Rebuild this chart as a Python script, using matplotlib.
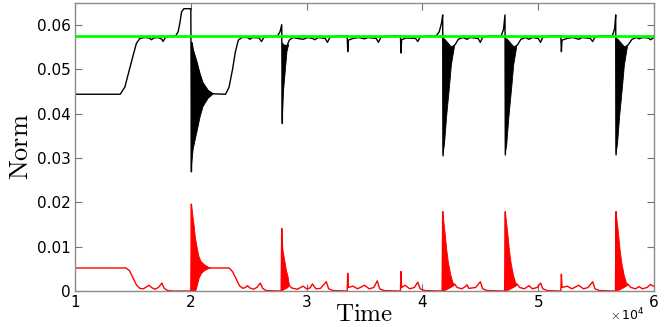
import numpy as np
import matplotlib
matplotlib.use("Agg")
import matplotlib.pyplot as plt

# time values are in units of 1e4
TIME_UNIT = 1e4

# reference level (green)
level_norm = 0.0576

# black curve
black_t = [1.00, 1.39, 1.43, 1.47, 1.50, 1.53, 1.56, 1.60, 1.64, 1.66, 1.68, 1.72, 1.75, 1.76, 1.78,
           1.82, 1.87, 1.89, 1.905, 1.92, 1.94, 1.99, 2.00, 2.005,
           2.01, 2.02, 2.05, 2.08, 2.105, 2.15,
           2.19, 2.30, 2.33, 2.36, 2.385, 2.41, 2.44, 2.49, 2.51, 2.53, 2.59, 2.61, 2.63, 2.68,
           2.75, 2.77, 2.785, 2.79, 2.795, 2.83, 2.85, 2.88, 2.92, 2.97, 3.01, 3.05, 3.07, 3.10,
           3.16, 3.18, 3.20, 3.25, 3.35, 3.355, 3.36, 3.40, 3.45, 3.50, 3.53, 3.60, 3.62, 3.64,
           3.70, 3.81, 3.815, 3.82, 3.86, 3.94, 3.96, 3.98, 4.05, 4.12, 4.145, 4.165, 4.175, 4.178,
           4.19, 4.25, 4.28, 4.31, 4.35, 4.385, 4.41, 4.48, 4.50, 4.52, 4.60, 4.68, 4.70, 4.713,
           4.716, 4.73, 4.79, 4.82, 4.85, 4.89, 4.92, 4.95, 5.00, 5.02, 5.04, 5.12, 5.195, 5.20,
           5.205, 5.25, 5.30, 5.35, 5.38, 5.45, 5.47, 5.49, 5.56, 5.64, 5.66, 5.669, 5.672, 5.685,
           5.745, 5.775, 5.81, 5.85, 5.87, 5.90, 5.95, 5.97, 6.00]
black_v = [0.0444, 0.0444, 0.0460, 0.0500, 0.0530, 0.0559, 0.0570, 0.0572, 0.0571, 0.0567, 0.0571,
           0.0572, 0.0568, 0.0563, 0.0572,
           0.0575, 0.0576, 0.0585, 0.0604, 0.0630, 0.0637, 0.0637, 0.0637, 0.0269,
           0.0560, 0.0544, 0.0518, 0.0488, 0.0469, 0.0452,
           0.0445, 0.0444, 0.0460, 0.0500, 0.0540, 0.0566, 0.0572, 0.0572, 0.0568, 0.0572, 0.0571,
           0.0563, 0.0572, 0.0575,
           0.0576, 0.0585, 0.0601, 0.0378, 0.0555, 0.0553, 0.0566, 0.0572, 0.0570, 0.0568, 0.0572,
           0.0570, 0.0567, 0.0572,
           0.0570, 0.0561, 0.0572, 0.0575, 0.0576, 0.0540, 0.0566, 0.0570, 0.0572, 0.0569, 0.0572,
           0.0570, 0.0561, 0.0572,
           0.0575, 0.0576, 0.0537, 0.0567, 0.0571, 0.0570, 0.0563, 0.0573, 0.0576, 0.0576, 0.0585,
           0.0605, 0.0623, 0.0305,
           0.0568, 0.0550, 0.0555, 0.0568, 0.0572, 0.0568, 0.0572, 0.0570, 0.0561, 0.0573, 0.0576,
           0.0576, 0.0590, 0.0623,
           0.0307, 0.0568, 0.0550, 0.0555, 0.0568, 0.0572, 0.0568, 0.0572, 0.0570, 0.0561, 0.0573,
           0.0576, 0.0576, 0.0540,
           0.0566, 0.0570, 0.0572, 0.0568, 0.0572, 0.0570, 0.0563, 0.0573, 0.0576, 0.0576, 0.0592,
           0.0623, 0.0307, 0.0568,
           0.0550, 0.0555, 0.0568, 0.0572, 0.0569, 0.0572, 0.0571, 0.0567, 0.0572]

# envelopes of the fast oscillations in the black curve (nan separates bursts)
nan = np.nan
black_burst_t = [2.005, 2.02, 2.05, 2.08, 2.105, 2.15, 2.19, nan,
                 2.79, 2.80, 2.815, 2.83, 2.845, nan,
                 4.178, 4.19, 4.21, 4.235, 4.25, 4.275, nan,
                 4.716, 4.728, 4.748, 4.773, 4.788, 4.813, nan,
                 5.672, 5.684, 5.704, 5.729, 5.744, 5.769]
black_burst_hi = [0.0560, 0.0544, 0.0518, 0.0488, 0.0469, 0.0452, 0.0445, nan,
                  0.0560, 0.0556, 0.0553, 0.0553, 0.0556, nan,
                  0.0570, 0.0568, 0.0560, 0.0552, 0.0550, 0.0553, nan,
                  0.0570, 0.0568, 0.0560, 0.0552, 0.0550, 0.0553, nan,
                  0.0570, 0.0568, 0.0560, 0.0552, 0.0550, 0.0553]
black_burst_lo = [0.0280, 0.0320, 0.0356, 0.0393, 0.0416, 0.0435, 0.0444, nan,
                  0.0390, 0.0450, 0.0495, 0.0540, 0.0556, nan,
                  0.0310, 0.0330, 0.0397, 0.0465, 0.0510, 0.0549, nan,
                  0.0312, 0.0330, 0.0397, 0.0465, 0.0510, 0.0549, nan,
                  0.0312, 0.0330, 0.0397, 0.0465, 0.0510, 0.0549]

# red curve
red_t = [1.00, 1.44, 1.47, 1.50, 1.53, 1.56, 1.59, 1.62, 1.64, 1.66, 1.69, 1.72, 1.75, 1.77, 1.80,
         1.85, 2.00, 2.005, 2.01,
         2.026, 2.04, 2.055, 2.07, 2.09, 2.12, 2.15,
         2.17, 2.33, 2.36, 2.39, 2.42, 2.45, 2.47, 2.49, 2.51, 2.54, 2.57, 2.60, 2.62, 2.65, 2.78,
         2.785, 2.79,
         2.85, 2.87, 2.92, 2.97, 3.00, 3.03, 3.05, 3.08, 3.12, 3.17, 3.19, 3.23, 3.35, 3.355, 3.36,
         3.40, 3.44, 3.50, 3.54, 3.58, 3.61, 3.63, 3.67, 3.81, 3.815, 3.82, 3.85, 3.89, 3.93, 3.96,
         3.98, 4.02, 4.17, 4.175, 4.18,
         4.28, 4.30, 4.34, 4.37, 4.385, 4.40, 4.46, 4.50, 4.52, 4.56, 4.71, 4.716, 4.72,
         4.82, 4.84, 4.88, 4.92, 4.95, 4.99, 5.02, 5.04, 5.08, 5.195, 5.20, 5.205, 5.25, 5.29,
         5.35, 5.39, 5.43, 5.47, 5.49, 5.53, 5.667, 5.672, 5.677,
         5.775, 5.80, 5.84, 5.87, 5.90, 5.94, 5.97, 6.00]
red_v = [0.0052, 0.0052, 0.0046, 0.0030, 0.0014, 0.0006, 0.0005, 0.0010, 0.0013, 0.0008, 0.0004,
         0.0008, 0.0018, 0.0006, 0.0001,
         0.0000, 0.0000, 0.0196, 0.0002,
         0.0000, 0.0000, 0.0014, 0.0030, 0.0040, 0.0047, 0.0051,
         0.0052, 0.0052, 0.0044, 0.0028, 0.0012, 0.0006, 0.0008, 0.0012, 0.0007, 0.0004, 0.0008,
         0.0018, 0.0006, 0.0001, 0.0000,
         0.0141, 0.0002,
         0.0013, 0.0007, 0.0004, 0.0011, 0.0005, 0.0007, 0.0016, 0.0005, 0.0006, 0.0021, 0.0005,
         0.0001, 0.0000, 0.0040, 0.0008,
         0.0011, 0.0005, 0.0013, 0.0005, 0.0008, 0.0023, 0.0005, 0.0001, 0.0000, 0.0044, 0.0008,
         0.0013, 0.0005, 0.0008, 0.0020,
         0.0005, 0.0001, 0.0000, 0.0179, 0.0003,
         0.0015, 0.0008, 0.0005, 0.0010, 0.0014, 0.0006, 0.0008, 0.0021, 0.0005, 0.0001, 0.0000,
         0.0179, 0.0003,
         0.0015, 0.0008, 0.0005, 0.0012, 0.0005, 0.0008, 0.0018, 0.0005, 0.0001, 0.0000, 0.0038,
         0.0008, 0.0011, 0.0005,
         0.0013, 0.0005, 0.0008, 0.0021, 0.0005, 0.0001, 0.0000, 0.0179, 0.0003,
         0.0015, 0.0008, 0.0005, 0.0010, 0.0005, 0.0008, 0.0015, 0.0010]

red_burst_t = [2.005, 2.026, 2.04, 2.055, 2.07, 2.09, 2.12, 2.15, 2.17, nan,
               2.785, 2.795, 2.81, 2.825, 2.84, 2.85, nan,
               4.175, 4.195, 4.21, 4.225, 4.245, 4.265, 4.28, nan,
               4.716, 4.736, 4.751, 4.766, 4.786, 4.806, 4.82, nan,
               5.672, 5.692, 5.707, 5.722, 5.742, 5.762, 5.775]
red_burst_hi = [0.0196, 0.0153, 0.0120, 0.0097, 0.0078, 0.0066, 0.0059, 0.0054, 0.0052, nan,
                0.0141, 0.0093, 0.0070, 0.0047, 0.0032, 0.0015, nan,
                0.0179, 0.0133, 0.0093, 0.0063, 0.0036, 0.0018, 0.0015, nan,
                0.0179, 0.0133, 0.0093, 0.0063, 0.0036, 0.0018, 0.0015, nan,
                0.0179, 0.0133, 0.0093, 0.0063, 0.0036, 0.0018, 0.0015]
red_burst_lo = [0.0000, 0.0000, 0.0000, 0.0014, 0.0030, 0.0040, 0.0047, 0.0051, 0.0052, nan,
                0.0000, 0.0002, 0.0004, 0.0006, 0.0008, 0.0013, nan,
                0.0000, 0.0001, 0.0003, 0.0005, 0.0008, 0.0011, 0.0015, nan,
                0.0000, 0.0001, 0.0003, 0.0005, 0.0008, 0.0011, 0.0015, nan,
                0.0000, 0.0001, 0.0003, 0.0005, 0.0008, 0.0011, 0.0015]

x_ticks = [1, 2, 3, 4, 5, 6]
x_tick_labels = ['1', '2', '3', '4', '5', '6']
y_ticks = [0, 0.01, 0.02, 0.03, 0.04, 0.05, 0.06]
y_tick_labels = ['0', '0.01', '0.02', '0.03', '0.04', '0.05', '0.06']


def main():
    plt.rcParams['mathtext.fontset'] = 'cm'
    plt.rcParams['font.family'] = 'DejaVu Sans'

    fig = plt.figure(figsize=(6.64, 3.27), dpi=100)
    ax = fig.add_axes([0.113, 0.110, 0.872, 0.881])

    bt = np.array(black_burst_t) * TIME_UNIT
    rt = np.array(red_burst_t) * TIME_UNIT
    ax.fill_between(bt, black_burst_lo, black_burst_hi, color='black', linewidth=0.6)
    ax.fill_between(rt, red_burst_lo, red_burst_hi, color='red', linewidth=0.6)

    ax.plot(np.array(black_t) * TIME_UNIT, black_v, color='black', linewidth=1.0)
    ax.plot(np.array(red_t) * TIME_UNIT, red_v, color='red', linewidth=1.0)
    ax.axhline(level_norm, color='#00ff00', linewidth=2.0)

    ax.set_xlim(1 * TIME_UNIT, 6 * TIME_UNIT)
    ax.set_ylim(0, 0.065)
    ax.set_xticks(np.array(x_ticks) * TIME_UNIT)
    ax.set_xticklabels(x_tick_labels)
    ax.set_yticks(y_ticks)
    ax.set_yticklabels(y_tick_labels)

    ax.tick_params(direction='in', length=5, width=0.8, top=True, right=True,
                   labelsize=11, pad=3, color='0.45')
    for sp in ax.spines.values():
        sp.set_color('0.55')
        sp.set_linewidth(1.0)

    # axis labels, MATLAB/LaTeX look
    ax.set_xlabel(r'$\mathrm{Time}$', fontsize=18, va='baseline')
    ax.xaxis.set_label_coords(0.5, -0.103)
    ax.set_ylabel(r'$\mathrm{Norm}$', fontsize=19, labelpad=2)
    ax.text(0.984, -0.103, r'$\times\,\mathdefault{10^{4}}$', transform=ax.transAxes,
            ha='right', va='baseline', fontsize=9)

    fig.savefig('out.png', dpi=100)


if __name__ == "__main__":
    main()
